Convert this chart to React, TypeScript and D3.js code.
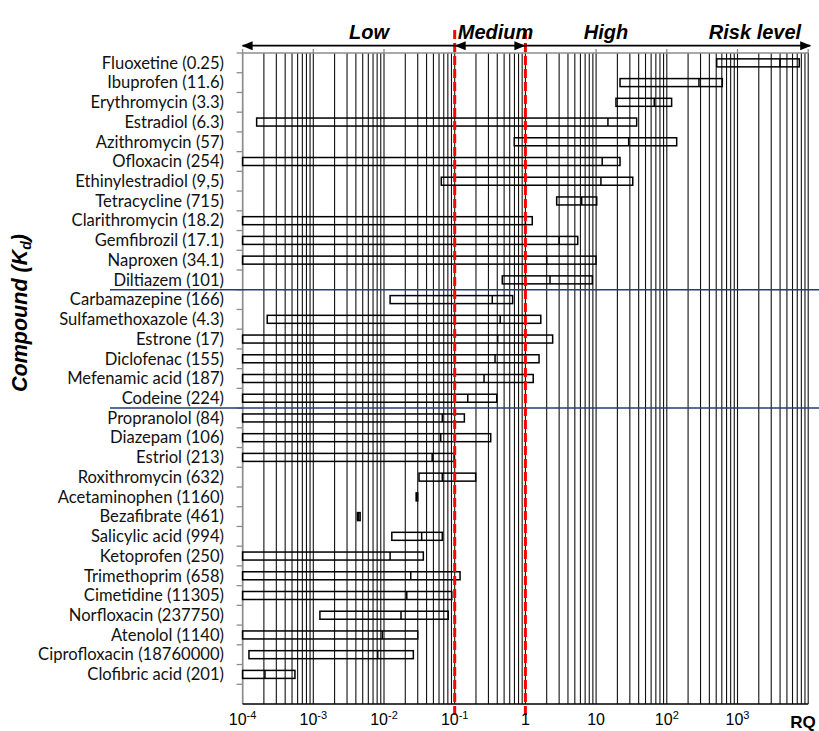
import React from 'react'
import * as d3 from 'd3'

// compounds with Kd in brackets, top to bottom
const compounds = [
  'Fluoxetine (0.25)', 'Ibuprofen (11.6)', 'Erythromycin (3.3)', 'Estradiol (6.3)',
  'Azithromycin (57)', 'Ofloxacin (254)', 'Ethinylestradiol (9,5)', 'Tetracycline (715)',
  'Clarithromycin (18.2)', 'Gemfibrozil (17.1)', 'Naproxen (34.1)', 'Diltiazem (101)',
  'Carbamazepine (166)', 'Sulfamethoxazole (4.3)', 'Estrone (17)', 'Diclofenac (155)',
  'Mefenamic acid (187)', 'Codeine (224)', 'Propranolol (84)', 'Diazepam (106)',
  'Estriol (213)', 'Roxithromycin (632)', 'Acetaminophen (1160)', 'Bezafibrate (461)',
  'Salicylic acid (994)', 'Ketoprofen (250)', 'Trimethoprim (658)', 'Cimetidine (11305)',
  'Norfloxacin (237750)', 'Atenolol (1140)', 'Ciprofloxacin (18760000)', 'Clofibric acid (201)',
]
const rqMin = [
  508, 21.8, 19.1, 1.58e-4, 0.697, 1e-4, 0.0646, 2.77,
  1e-4, 1e-4, 1e-4, 0.471, 0.0122, 2.23e-4, 1e-4, 1e-4,
  1e-4, 1e-4, 1e-4, 1e-4, 1e-4, 0.0313, 0.0285, 0.0042,
  0.0129, 1e-4, 1e-4, 1e-4, 0.00124, 1e-4, 1.23e-4, 1e-4,
]
const rqMid = [
  3990, 285, 66.5, 14.7, 28.9, 12.2, 11.7, 6.25,
  1.0, 3.0, 2.0, 2.23, 0.34, 0.44, 0.405, 0.372,
  0.26, 0.153, 0.0668, 0.0634, 0.048, 0.0668, 0.029, 0.0044,
  0.0341, 0.0122, 0.0239, 0.021, 0.0174, 0.00946, 0.00815, 2.07e-4,
]
const rqMax = [
  7480, 610, 117, 37.5, 138, 21.8, 33, 10.2,
  1.25, 5.5, 9.97, 8.84, 0.66, 1.65, 2.43, 1.56,
  1.29, 0.393, 0.137, 0.323, 0.098, 0.198, 0.03, 0.0046,
  0.0668, 0.036, 0.119, 0.091, 0.081, 0.03, 0.026, 5.5e-4,
]
const tickExps = [-4, -3, -2, -1, 0, 1, 2, 3]
const riskBounds = [0.1, 1]
const groupBreaks = ['Carbamazepine (166)', 'Propranolol (84)']

const W = 819, H = 731
const top = 53, bottom = 704

export default function App() {
  const x = d3.scaleLog().domain([1e-4, 1e4]).range([242.6, 808.2])
  const y = d3.scaleBand<string>().domain([...compounds, '']).range([top, bottom])
  const bw = 8

  const grid: number[] = []
  for (let e = -4; e < 4; e++) for (let k = 1; k < 10; k++) grid.push(k * Math.pow(10, e))
  grid.push(1e4)

  const rows = compounds.map((c, i) => ({ c, lo: rqMin[i], mid: rqMid[i], hi: rqMax[i] }))
  const x0 = x.range()[0], x1 = x.range()[1]
  const ay = 45.7
  const font = 'Arial, "Liberation Sans", sans-serif'

  const tickLabel = (e: number) => {
    if (e === 0) return <tspan>1</tspan>
    if (e === 1) return <tspan>10</tspan>
    return (<>
      <tspan>10</tspan>
      <tspan dy={-6} fontSize={11}>{e}</tspan>
    </>)
  }

  return (
    <svg width={W} height={H} style={{ position: 'absolute', left: 0, top: 0, background: '#fff' }}>
      {/* vertical grid */}
      {grid.map((g, i) => (
        <line key={i} x1={x(g)} x2={x(g)} y1={top} y2={bottom} stroke="#111" strokeWidth={1.1} />
      ))}
      {/* top axis (grey) */}
      <line x1={x0} x2={x1} y1={top} y2={top} stroke="#8c8c8c" strokeWidth={1.3} />
      {tickExps.concat([4]).map(e => (
        <line key={e} x1={x(Math.pow(10, e))} x2={x(Math.pow(10, e))} y1={top - 4} y2={top} stroke="#8c8c8c" strokeWidth={1.3} />
      ))}
      {/* left axis */}
      <line x1={x0} x2={x0} y1={top} y2={bottom} stroke="#8c8c8c" strokeWidth={1.5} />
      {y.domain().map((c, i) => (
        <line key={i} x1={x0 - 6} x2={x0} y1={(y(c) as number)} y2={(y(c) as number)} stroke="#8c8c8c" strokeWidth={1.3} />
      ))}
      <line x1={x0} x2={x1} y1={bottom} y2={bottom} stroke="#000" strokeWidth={1.3} />

      {/* boxes */}
      {rows.map(r => {
        const cy = (y(r.c) as number) + y.bandwidth() / 2
        return (
          <g key={r.c}>
            <rect x={x(r.lo)} y={cy - bw / 2} width={Math.max(x(r.hi) - x(r.lo), 0.5)} height={bw}
              fill="none" stroke="#000" strokeWidth={1.5} />
            <line x1={x(r.mid)} x2={x(r.mid)} y1={cy - bw / 2} y2={cy + bw / 2} stroke="#000" strokeWidth={1.5} />
          </g>
        )
      })}

      {/* group separators */}
      {groupBreaks.map(c => (
        <line key={c} x1={110} x2={W} y1={y(c)} y2={y(c)} stroke="#1f3d78" strokeWidth={1.5} />
      ))}

      {/* risk thresholds */}
      {riskBounds.map(v => (
        <line key={v} x1={x(v)} x2={x(v)} y1={30} y2={717} stroke="#ff0000" strokeWidth={3} strokeDasharray="9,4" />
      ))}

      {/* risk arrows */}
      <line x1={x0} x2={x1 + 2} y1={ay} y2={ay} stroke="#000" strokeWidth={1.8} />
      <path d={`M${x0 - 1},${ay} l11,-4.5 v9 z`} fill="#000" />
      <path d={`M${x(0.1)},${ay} l11,-4.5 v9 z`} fill="#000" />
      <path d={`M${x(1)},${ay} l-11,-4.5 v9 z`} fill="#000" />
      <path d={`M${x1 + 3},${ay} l-11,-4.5 v9 z`} fill="#000" />
      <g fontFamily={font} fontWeight="bold" fontStyle="italic" fontSize={20} textAnchor="middle">
        <text x={369} y={39}>Low</text>
        <text x={495.6} y={39}>Medium</text>
        <text x={606} y={39}>High</text>
        <text x={755} y={39}>Risk level</text>
      </g>

      {/* category labels */}
      <g fontFamily='Lato, "Open Sans", sans-serif' fontSize={16.6} textAnchor="end" fill="#111">
        {compounds.map(c => (
          <text key={c} x={224} y={(y(c) as number) + y.bandwidth() / 2} dy="0.35em">{c}</text>
        ))}
      </g>

      {/* x tick labels */}
      <g fontFamily={font} fontSize={16} textAnchor="middle">
        {tickExps.map(e => (
          <text key={e} x={x(Math.pow(10, e))} y={725}>{tickLabel(e)}</text>
        ))}
      </g>
      <text x={803} y={728} fontFamily={font} fontWeight="bold" fontSize={17} textAnchor="middle">RQ</text>

      {/* y title */}
      <text transform={`translate(27,${313}) rotate(-90)`} fontFamily={font} fontWeight="bold" fontStyle="italic"
        fontSize={21.5} textAnchor="middle">
        Compound (K<tspan dy={4} fontSize={14}>d</tspan><tspan dy={-4}>)</tspan>
      </text>
    </svg>
  )
}
